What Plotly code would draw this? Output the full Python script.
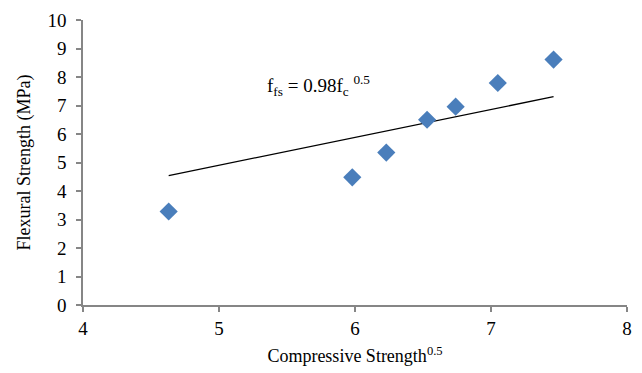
import plotly.graph_objects as go

# Data
comp_strength_sqrt = [4.63, 5.98, 6.23, 6.53, 6.74, 7.05, 7.46]
flexural_strength = [3.28, 4.48, 5.35, 6.50, 6.96, 7.79, 8.61]
trend_x = [4.63, 7.46]
trend_y = [4.54, 7.31]
x_ticks = [4, 5, 6, 7, 8]
y_ticks = [0, 1, 2, 3, 4, 5, 6, 7, 8, 9, 10]

font_family = "Liberation Serif"

fig = go.Figure()
fig.add_trace(go.Scatter(
    x=trend_x, y=trend_y, mode="lines",
    line=dict(color="black", width=1.3), showlegend=False, hoverinfo="skip"))
fig.add_trace(go.Scatter(
    x=comp_strength_sqrt, y=flexural_strength, mode="markers",
    marker=dict(symbol="diamond", size=14, color="#4A7EBB"), showlegend=False))

fig.add_annotation(
    x=5.73, y=7.7, xref="x", yref="y", showarrow=False,
    text="f<sub>fs</sub> = 0.98f<sub>c</sub> <sup>0.5</sup>",
    font=dict(family=font_family, size=19, color="black"))

axis_common = dict(
    showgrid=False, zeroline=False, showline=True, linecolor="#868686", linewidth=1.5,
    ticks="outside", ticklen=5, tickcolor="#868686", tickwidth=1.5,
    tickfont=dict(family=font_family, size=19, color="black"))

fig.update_xaxes(range=[4, 8], tickvals=x_ticks,
                 title=dict(text="Compressive Strength<sup>0.5</sup>",
                            font=dict(family=font_family, size=18, color="black"), standoff=12),
                 **axis_common)
fig.update_yaxes(range=[0, 10], tickvals=y_ticks, ticklabelstandoff=6,
                 title=dict(text="Flexural Strength (MPa)",
                            font=dict(family=font_family, size=18, color="black"), standoff=12),
                 **axis_common)

fig.update_layout(
    width=642, height=373,
    margin=dict(l=83, r=10, t=17, b=66),
    paper_bgcolor="white", plot_bgcolor="white",
    font=dict(family=font_family))

fig.write_html("out.html")
